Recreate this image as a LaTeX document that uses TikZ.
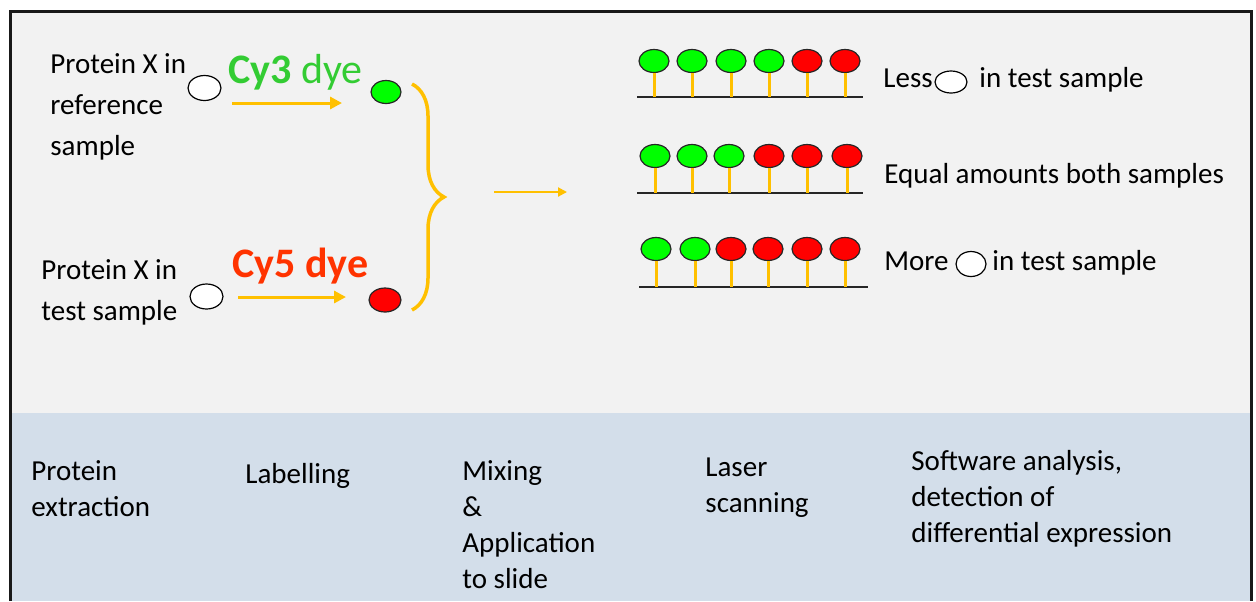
\documentclass[tikz,border=0pt]{standalone}
\usepackage{fontspec}
\setmainfont{Carlito}
\usetikzlibrary{positioning,shapes.geometric,arrows.meta,decorations.pathreplacing}
\definecolor{panelgray}{HTML}{F2F2F2}
\definecolor{panelblue}{HTML}{D3DEEA}
\definecolor{dyeyellow}{HTML}{FFC000}
\definecolor{cythree}{HTML}{33CC33}
\definecolor{cyfive}{HTML}{FF3300}
\definecolor{spotgreen}{HTML}{00FF00}
\definecolor{spotred}{HTML}{FF0000}
\tikzset{
  frame/.style={draw=black!90, line width=1.5pt},
  txt/.style={inner sep=0pt, align=left, font=\fontsize{14.5}{20.5}\selectfont},
  steptxt/.style={inner sep=0pt, align=left, anchor=base west, font=\fontsize{14.5}{18}\selectfont},
  protein/.style={ellipse, draw=black, fill=white, line width=0.6pt, inner sep=0pt, minimum width=16.5pt, minimum height=12.5pt},
  spot/.style={ellipse, draw=black!85, line width=0.6pt, inner sep=0pt, minimum width=15pt, minimum height=11.5pt},
  dyearrow/.style={draw=dyeyellow, line width=1.5pt, -{Triangle[length=6pt,width=6pt]}},
  mixarrow/.style={draw=dyeyellow, line width=1pt, -{Triangle[length=4.5pt,width=4.5pt]}},
  stem/.style={draw=dyeyellow, line width=1.5pt},
  slide/.style={draw=black!85, line width=1pt}
}
\begin{document}
\begin{tikzpicture}[x=0.5pt, y=-0.5pt]
\useasboundingbox (0,0) rectangle (1256,601);
\fill[panelgray] (12,12) rectangle (1251,413);
\fill[panelblue] (12,413) rectangle (1251,601);
\draw[frame] (10.5,601) -- (10.5,11.5) -- (1251.5,11.5) -- (1251.5,601);

\node[txt, anchor=base west] (ref) at (50,155) {Protein X in\\reference\\sample};
\node[protein] (refX) at (204.5,88) {};
\node[inner sep=0pt, anchor=base west, text=cythree, font=\fontsize{21}{25}\selectfont] (cy3) at (228,83) {\textbf{Cy3} dye};
\node[spot, fill=spotgreen] (refdye) at (386,92) {};
\coordinate (refa) at (232,103);
\coordinate (refb) at (342,103);
\draw[dyearrow] (refa) -- (refb);

\node[txt, anchor=base west] (test) at (41,320) {Protein X in\\test sample};
\node[protein] (testX) at (206.5,296.5) {};
\node[inner sep=0pt, anchor=base west, text=cyfive, font=\fontsize{21}{25}\bfseries] (cy5) at (232,277) {Cy5 dye};
\node[spot, fill=spotred, minimum width=16pt, minimum height=12pt] (testdye) at (385,300) {};
\coordinate (testa) at (238,297);
\coordinate (testb) at (346,297);
\draw[dyearrow] (testa) -- (testb);

\coordinate (bracetop) at (412,84);
\coordinate (bracebot) at (412,310);
\draw[draw=dyeyellow, line width=1.75pt, decorate, decoration={brace, amplitude=16pt}] (bracetop) -- (bracebot);
\coordinate (mixa) at (494,192);
\coordinate (mixb) at (567,192);
\draw[mixarrow] (mixa) -- (mixb);

\coordinate (slide1l) at (637,97);
\coordinate (slide1r) at (863,97);
\draw[slide] (slide1l) -- (slide1r);
\foreach \x/\c [count=\i] in {654/spotgreen,692/spotgreen,731/spotgreen,769/spotgreen,807/spotred,845/spotred} {
  \node[spot, fill=\c] (one\i) at (\x,61) {};
  \coordinate (one\i foot) at (\x,97);
  \draw[stem] (one\i) -- (one\i foot);
}
\coordinate (slide2l) at (637,193);
\coordinate (slide2r) at (863,193);
\draw[slide] (slide2l) -- (slide2r);
\foreach \x/\c [count=\i] in {655/spotgreen,692/spotgreen,729/spotgreen,769/spotred,807/spotred,847/spotred} {
  \node[spot, fill=\c] (two\i) at (\x,156) {};
  \coordinate (two\i foot) at (\x,193);
  \draw[stem] (two\i) -- (two\i foot);
}
\coordinate (slide3l) at (639,287);
\coordinate (slide3r) at (868,287);
\draw[slide] (slide3l) -- (slide3r);
\foreach \x/\c [count=\i] in {656/spotgreen,695/spotgreen,731/spotred,768/spotred,807/spotred,845/spotred} {
  \node[spot, fill=\c] (three\i) at (\x,249) {};
  \coordinate (three\i foot) at (\x,287);
  \draw[stem] (three\i) -- (three\i foot);
}

\node[txt, anchor=base west] (less) at (883,87) {Less};
\node[protein, minimum width=16pt, minimum height=11pt] (lessX) at (951,82) {};
\node[txt, anchor=base west] (lesstxt) at (979,87) {in test sample};
\node[txt, anchor=base west] (equal) at (884,183) {Equal amounts both samples};
\node[txt, anchor=base west] (more) at (884,270) {More};
\node[protein, minimum width=15pt, minimum height=12.5pt] (moreX) at (971,264) {};
\node[txt, anchor=base west] (moretxt) at (992,270) {in test sample};

\node[steptxt] (extract) at (31,516) {Protein\\extraction};
\node[steptxt] (label) at (245,483) {Labelling};
\node[steptxt] (mix) at (462,588) {Mixing\\\&\\Application\\to slide};
\node[steptxt] (scan) at (705,512) {Laser\\scanning};
\node[steptxt] (analyse) at (911,542) {Software analysis,\\detection of\\differential expression};
\end{tikzpicture}
\end{document}
